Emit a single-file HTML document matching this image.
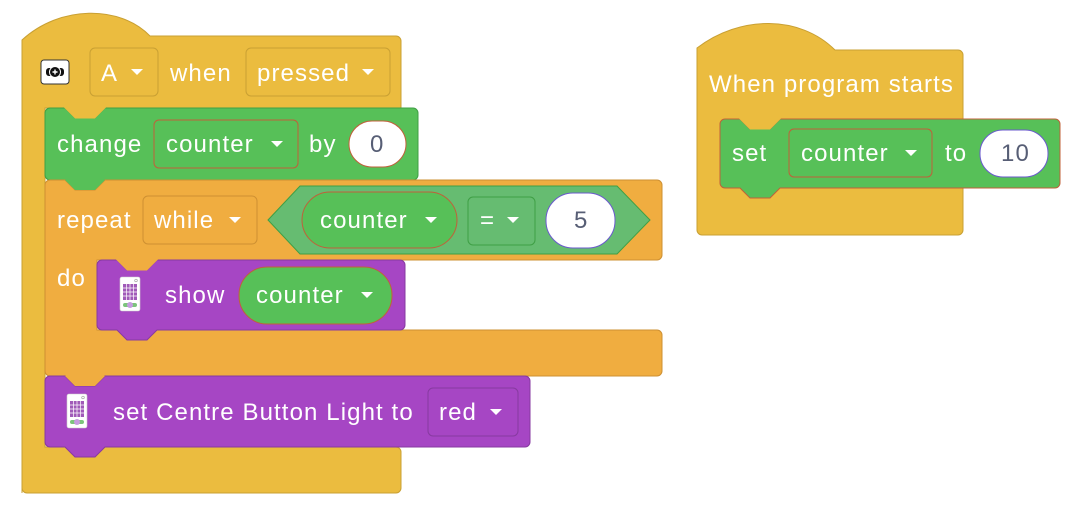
<!DOCTYPE html>
<html><head><meta charset="utf-8"><style>
html,body{margin:0;padding:0;background:#fff;}
svg{display:block}
text{font-family:"Liberation Sans","DejaVu Sans",sans-serif;font-size:24px;letter-spacing:1.1px;fill:#fff;}
.d{fill:#575E75}
</style></head><body>
<svg width="1076" height="524" viewBox="0 0 1076 524" xmlns="http://www.w3.org/2000/svg">
<defs>
<g id="dev">
<rect x="0" y="0" width="20" height="34" rx="2" fill="#fff" stroke="#ccc" stroke-width="0.6"/>
<rect x="3" y="7" width="14" height="16" fill="#a05ab8"/>
<path d="M3 11h14M3 15h14M3 19h14M6.5 7v16M10 7v16M13.5 7v16" stroke="#fff" stroke-width="0.7"/>
<rect x="3" y="26" width="14" height="4" rx="2" fill="#7cc47c"/>
<circle cx="10" cy="28" r="3" fill="#c69be0"/>
<circle cx="16" cy="3.5" r="1.3" fill="none" stroke="#999" stroke-width="0.6"/>
</g>
<path id="arr" d="M0 0h12l-6 6z" fill="#fff"/>
</defs>

<path d="M22 493V40 C60 5 120 5 150 36 H396 a5 5 0 0 1 5 5 V108 H45 V447 H396 a5 5 0 0 1 5 5 V488 a5 5 0 0 1 -5 5 H27 a5 5 0 0 1 -5 -5z" fill="#EBBC3F" stroke="#C9A033" stroke-width="1"/>
<rect x="41" y="60" width="28" height="24" rx="3" fill="#fff" stroke="#333" stroke-width="1"/>
<rect x="46" y="68" width="18" height="8" rx="3" fill="#111"/>
<circle cx="55" cy="72" r="5.5" fill="#111" stroke="#fff" stroke-width="1"/>
<path d="M55 69.5v5M52.5 72h5" stroke="#fff" stroke-width="1.4"/>
<rect x="90" y="48" width="68" height="48" rx="5" fill="#EBBC3F" stroke="#C9A033"/>
<text x="101" y="81">A</text><use href="#arr" x="131" y="69"/>
<text x="170" y="81">when</text>
<rect x="246" y="48" width="144" height="48" rx="5" fill="#EBBC3F" stroke="#C9A033"/>
<text x="257" y="81">pressed</text><use href="#arr" x="362" y="69"/>

<path d="M45 113a5 5 0 0 1 5 -5H65 l10 10 h20 l10 -10 H413 a5 5 0 0 1 5 5 V175 a5 5 0 0 1 -5 5 H105 l-10 10 h-20 l-10 -10 H50 a5 5 0 0 1 -5 -5z" fill="#57C058" stroke="#3F9F45"/>
<path d="M64 107.5 l11 11 h20 l11 -11z" fill="#EBBC3F"/>
<text x="57" y="152">change</text>
<rect x="154" y="120" width="144" height="48" rx="5" fill="#57C058" stroke="#C0603A"/>
<text x="166" y="152">counter</text><use href="#arr" x="271" y="141"/>
<text x="309" y="152">by</text>
<rect x="349" y="121" width="57" height="46" rx="23" fill="#fff" stroke="#C0603A"/>
<text x="370" y="152" class="d">0</text>

<path d="M45 185 a5 5 0 0 1 5 -5 H65 l10 10 h20 l10 -10 H657 a5 5 0 0 1 5 5 V255 a5 5 0 0 1 -5 5 H147 l-10 10 h-20 l-10 -10 H97 V330 H657 a5 5 0 0 1 5 5 V371 a5 5 0 0 1 -5 5 H105 l-10 10 h-20 l-10 -10 H50 a5 5 0 0 1 -5 -5z" fill="#F0AD40" stroke="#CE9032"/>
<path d="M65 180 l10 10 h20 l10 -10z" fill="#57C058"/>
<text x="57" y="228">repeat</text>
<rect x="143" y="196" width="114" height="48" rx="5" fill="#F0AD40" stroke="#CE9032"/>
<text x="154" y="228">while</text><use href="#arr" x="229" y="217"/>
<text x="57" y="286">do</text>
<path d="M268 220 L300 186 H617 L650 220 L617 254 H300z" fill="#66BC71" stroke="#3F9F45"/>
<rect x="302" y="192" width="155" height="56" rx="28" fill="#57C058" stroke="#C0603A"/>
<text x="320" y="228">counter</text><use href="#arr" x="425" y="217"/>
<rect x="468" y="197" width="67" height="48" rx="5" fill="#66BC71" stroke="#3F9F45"/>
<text x="480" y="228">=</text><use href="#arr" x="507" y="217"/>
<rect x="546" y="193" width="69" height="55" rx="27" fill="#fff" stroke="#6a5acd"/>
<text x="574" y="228" class="d">5</text>

<path d="M97 265 a5 5 0 0 1 5 -5 H117 l10 10 h20 l10 -10 H400 a5 5 0 0 1 5 5 V325 a5 5 0 0 1 -5 5 H157 l-10 10 h-20 l-10 -10 H102 a5 5 0 0 1 -5 -5z" fill="#A646C4" stroke="#873AA0"/>
<path d="M116 259.5 l11 11 h20 l11 -11z" fill="#F0AD40"/>
<use href="#dev" x="120" y="277"/>
<text x="165" y="303">show</text>
<rect x="239" y="267" width="153" height="57" rx="28" fill="#57C058" stroke="#C0603A"/>
<text x="256" y="303">counter</text><use href="#arr" x="361" y="292"/>

<path d="M45 381 a5 5 0 0 1 5 -5 H65 l10 10 h20 l10 -10 H525 a5 5 0 0 1 5 5 V442 a5 5 0 0 1 -5 5 H105 l-10 10 h-20 l-10 -10 H50 a5 5 0 0 1 -5 -5z" fill="#A646C4" stroke="#873AA0"/>
<path d="M65 376 l10 10 h20 l10 -10z" fill="#F0AD40"/>
<use href="#dev" x="67" y="394"/>
<text x="113" y="420">set Centre Button Light to</text>
<rect x="428" y="388" width="90" height="48" rx="5" fill="#A646C4" stroke="#873AA0"/>
<text x="439" y="420">red</text><use href="#arr" x="490" y="409"/>

<path d="M697 48 C740 15 800 15 835 50 H958 a5 5 0 0 1 5 5 V230 a5 5 0 0 1 -5 5 H702 a5 5 0 0 1 -5 -5z" fill="#EBBC3F" stroke="#C9A033"/>
<text x="709" y="92">When program starts</text>
<path d="M720 124 a5 5 0 0 1 5 -5 H740 l10 10 h20 l10 -10 H1055 a5 5 0 0 1 5 5 V183 a5 5 0 0 1 -5 5 H780 l-10 10 h-20 l-10 -10 H725 a5 5 0 0 1 -5 -5z" fill="#57C058" stroke="#C0603A"/>
<path d="M739 118.5 l11 11 h20 l11 -11z" fill="#EBBC3F"/>
<text x="732" y="161">set</text>
<rect x="789" y="129" width="143" height="48" rx="5" fill="#57C058" stroke="#C0603A"/>
<text x="801" y="161">counter</text><use href="#arr" x="905" y="150"/>
<text x="945" y="161">to</text>
<rect x="980" y="130" width="68" height="47" rx="23" fill="#fff" stroke="#6a5acd"/>
<text x="1001" y="161" class="d">10</text>
</svg>
</body></html>
